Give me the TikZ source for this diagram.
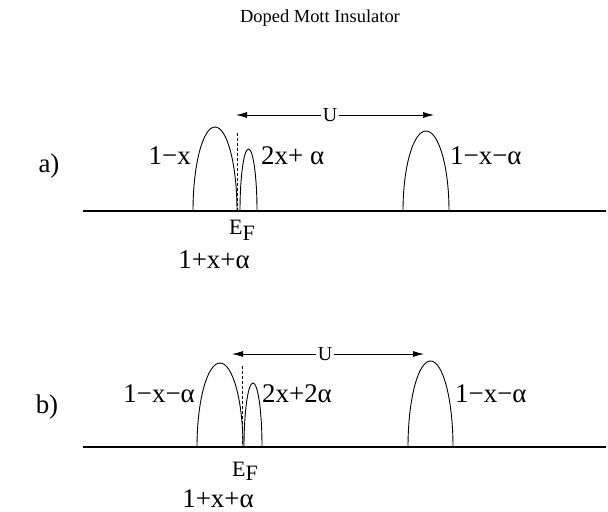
\documentclass[tikz,border=0pt]{standalone}
\usepackage{fontspec}
\setmainfont{Liberation Serif}
\usetikzlibrary{arrows.meta}
\tikzset{
  axis/.style={line width=2.2bp},
  band/.style={line width=0.9bp},
  fermi/.style={line width=0.7bp, dashed, dash pattern=on 3bp off 2bp},
  uarrow/.style={line width=0.8bp, -{Latex[length=11bp,width=6bp]}},
  lab/.style={font=\fontsize{27}{30}\selectfont, inner sep=0pt},
  ef/.style={font=\fontsize{22}{24}\selectfont, inner sep=0pt},
  ulab/.style={font=\fontsize{20}{22}\selectfont, inner sep=1.5bp, fill=white},
}
% bump: #1 left x, #2 right x, #3 base y, #4 top y
\newcommand{\bumpshape}[4]{%
  \pgfmathsetmacro{\xc}{(#1+#2)/2}%
  \pgfmathsetmacro{\hw}{(#2-#1)/2}%
  \draw[band] (#1,#3) .. controls (#1,{#3+0.5523*(#4-#3)}) and ({\xc-0.5523*\hw},#4) .. (\xc,#4)
     .. controls ({\xc+0.5523*\hw},#4) and (#2,{#3+0.5523*(#4-#3)}) .. (#2,#3);}
\begin{document}
\begin{tikzpicture}[x=1bp,y=-1bp]
\useasboundingbox[fill=white] (0,0) rectangle (608,512);
\node[font=\fontsize{18.5}{20}\selectfont] (title) at (320,18) {Doped Mott Insulator};

% ---------- panel a ----------
\node[lab, anchor=base] (pa) at (49,173) {a)};
\coordinate (a0) at (83,211);
\coordinate (a1) at (606,211);
\draw[axis] (a0) -- (a1);
\bumpshape{193}{237}{211}{127}
\bumpshape{240}{257}{211}{149}
\bumpshape{403}{449}{211}{131}
\coordinate (aft) at (237,133);
\coordinate (afb) at (237,211);
\draw[fermi] (aft) -- (afb);
\node[ulab] (aU) at (330,115) {U};
\coordinate (aL) at (236,115);
\coordinate (aR) at (434,115);
\draw[uarrow] (aU) -- (aL);
\draw[uarrow] (aU) -- (aR);
\node[lab, anchor=base east] (a1x) at (191,165) {1−x};
\node[lab, anchor=base west] (a2x) at (261,165) {2x+ α};
\node[lab, anchor=base west] (a3x) at (450,165) {1−x−α};
\node[ef, anchor=base west] (aEF) at (229,235) {E\raisebox{-6bp}{F}};
\node[lab, anchor=base] (aN) at (214,268) {1+x+α};

% ---------- panel b ----------
\node[lab, anchor=base] (pb) at (47,413) {b)};
\coordinate (b0) at (83,447);
\coordinate (b1) at (606,447);
\draw[axis] (b0) -- (b1);
\bumpshape{197}{243}{447}{363}
\bumpshape{244}{262}{447}{383}
\bumpshape{408}{453}{447}{361}
\coordinate (bft) at (242,366);
\coordinate (bfb) at (242,447);
\draw[fermi] (bft) -- (bfb);
\node[ulab] (bU) at (325,354) {U};
\coordinate (bL) at (232,354);
\coordinate (bR) at (424,354);
\draw[uarrow] (bU) -- (bL);
\draw[uarrow] (bU) -- (bR);
\node[lab, anchor=base east] (b1x) at (195,402) {1−x−α};
\node[lab, anchor=base west] (b2x) at (262,402) {2x+2α};
\node[lab, anchor=base west] (b3x) at (455,402) {1−x−α};
\node[ef, anchor=base west] (bEF) at (232,476) {E\raisebox{-4bp}{F}};
\node[lab, anchor=base] (bN) at (218,507) {1+x+α};
\end{tikzpicture}
\end{document}
